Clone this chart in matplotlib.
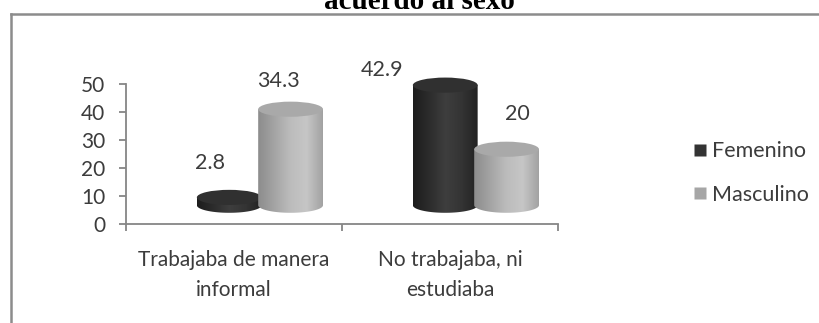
import matplotlib

matplotlib.use("Agg")
import matplotlib.pyplot as plt
import numpy as np
from matplotlib.colors import LinearSegmentedColormap
from matplotlib.lines import Line2D
from matplotlib.patches import Ellipse, PathPatch
from matplotlib.path import Path

# data
categories = ["Trabajaba de manera\ninformal", "No trabajaba, ni\nestudiaba"]
series_names = ["Femenino", "Masculino"]
femenino = [2.8, 42.9]
masculino = [34.3, 20]
y_ticks = [0, 10, 20, 30, 40, 50]

# where the value labels sit (x in category units, y in axis units)
label_pos_fem = [(0.39, 21.8), (1.185, 55.0)]
label_pos_mas = [(0.705, 51.1), (1.81, 39.3)]

W, H, DPI = 819, 323, 100
FLOOR = 6.7        # depth offset of the 3D floor
RY = 2.7           # half height of the cylinder caps
BAR_W = 0.30
OFFSETS = [0.478, 0.762]
TEXT = "#3c3c3c"
AXIS = "#868686"
FS = 15

plt.rcParams["font.family"] = ["Lato", "DejaVu Sans"]

styles = {
    "Femenino": {
        "side": ["#1c1c1c", "#2c2c2c", "#3e3e3e", "#343434", "#222222"],
        "top": "#303030",
        "swatch": "#333333",
    },
    "Masculino": {
        "side": ["#8c8c8c", "#a4a4a4", "#bcbcbc", "#c6c6c6", "#a2a2a2"],
        "top": "#a9a9a9",
        "swatch": "#a6a6a6",
    },
}


def draw_cylinder(ax, xc, value, style):
    rx = BAR_W / 2
    top = FLOOR + value
    t = np.linspace(np.pi, 2 * np.pi, 40)
    verts = [(xc - rx, top), (xc - rx, FLOOR)]
    verts += [(xc + rx * np.cos(a), FLOOR + RY * np.sin(a)) for a in t]
    verts += [(xc + rx, top), (xc - rx, top)]
    codes = [Path.MOVETO] + [Path.LINETO] * (len(verts) - 2) + [Path.CLOSEPOLY]
    body = PathPatch(Path(verts, codes), facecolor="none", edgecolor="none", zorder=2)
    ax.add_patch(body)
    cmap = LinearSegmentedColormap.from_list("side", style["side"])
    grad = np.linspace(0, 1, 256)[None, :]
    im = ax.imshow(grad, extent=[xc - rx, xc + rx, FLOOR - RY, top], cmap=cmap,
                   aspect="auto", zorder=2, interpolation="bilinear")
    im.set_clip_path(body)
    cap = Ellipse((xc, top), BAR_W, 2 * RY, facecolor=style["top"],
                  edgecolor="none", zorder=2)
    ax.add_patch(cap)


fig = plt.figure(figsize=(W / DPI, H / DPI), dpi=DPI)
ax = fig.add_axes([126 / W, 99 / H, 432 / W, 58 * 2.8 / H])

for i in range(len(categories)):
    draw_cylinder(ax, i + OFFSETS[0], femenino[i], styles["Femenino"])
    draw_cylinder(ax, i + OFFSETS[1], masculino[i], styles["Masculino"])

ax.set_xlim(0, 2)
ax.set_ylim(0, 58)

for vals, positions in [(femenino, label_pos_fem), (masculino, label_pos_mas)]:
    for v, (x, y) in zip(vals, positions):
        ax.text(x, y, f"{v:g}", ha="center", va="center", fontsize=FS + 0.5, color=TEXT)

for side in ["top", "right"]:
    ax.spines[side].set_visible(False)
ax.spines["left"].set_bounds(0, 50)
for side in ["left", "bottom"]:
    ax.spines[side].set_color(AXIS)
    ax.spines[side].set_linewidth(1.3)

ax.set_yticks(y_ticks)
ax.set_yticklabels([str(v) for v in y_ticks])
ax.set_xticks([0, 1, 2])
ax.set_xticklabels([])
ax.set_xticks([0.5, 1.5], minor=True)
ax.set_xticklabels(categories, minor=True, fontsize=FS, color=TEXT, linespacing=1.6)
ax.tick_params(axis="x", which="minor", length=0, pad=19)
ax.tick_params(axis="x", which="major", length=5, width=1.3, color=AXIS)
ax.tick_params(axis="y", length=5, width=1.3, color=AXIS, labelsize=FS,
               labelcolor=TEXT, pad=10)

handles = [Line2D([], [], marker="s", linestyle="none", markersize=8,
                  markerfacecolor=styles[n]["swatch"], markeredgecolor="none")
           for n in series_names]
fig.legend(handles, series_names, loc="center left",
           bbox_to_anchor=(692 / W, 1 - 173 / H), frameon=False, fontsize=FS + 0.5,
           labelcolor=TEXT, handlelength=0.7, handletextpad=0.25,
           labelspacing=1.1, borderpad=0, borderaxespad=0)

# chart border, only the left and top edges fall inside the image
frame = "#8c8c8c"
fig.add_artist(Line2D([11 / W, 11 / W], [0, 1 - 14 / H], color=frame, lw=1.8))
fig.add_artist(Line2D([11 / W, 1.01], [1 - 14 / H, 1 - 14 / H], color=frame, lw=1.8))

fig.text(419 / W, 1 - 9 / H, "acuerdo al sexo", ha="center", va="baseline",
         fontsize=21, fontweight="bold", family="Liberation Serif", color="black")

fig.savefig("out.png", dpi=DPI)
